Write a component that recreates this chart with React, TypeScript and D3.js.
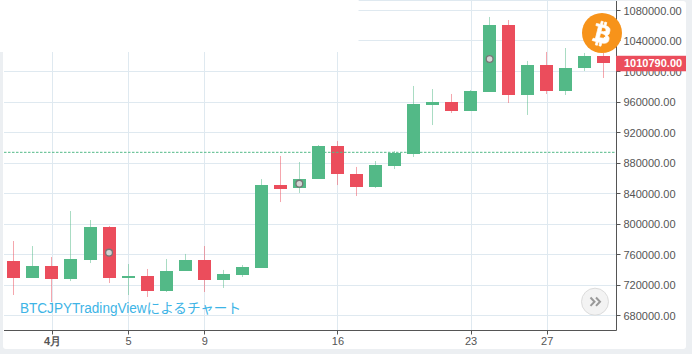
import React from "react";
import * as d3 from "d3";

const opens = [751500,729200,744900,727900,752800,796100,729200,731800,712100,738400,752800,726600,733100,742300,851100,847200,859000,902300,865600,848500,876100,891800,956100,960000,948200,973100,1061000,969200,1008500,974400,1004600,1020300];
const closes = [729200,744900,727900,754100,796100,729200,731800,712100,738400,752800,726600,734400,743600,851100,845900,859000,902300,865600,848500,877400,893100,957400,960000,948200,974400,1061000,969200,1008500,974400,1004600,1020300,1010800];
const highs = [777700,771100,756700,817000,805200,797400,747500,741000,754100,760700,771100,739700,746200,858900,889200,881300,903600,908800,874800,882600,895700,981000,977000,970500,975700,1071500,1067500,1013800,1025600,1030800,1024300,1024300];
const lows = [706900,729200,697700,725200,748800,722600,706900,704300,710800,738400,710800,716100,730500,837700,828800,840700,859000,851100,836700,847200,872100,887900,929800,945600,948200,973100,958700,943000,970500,969200,1000700,991500];
const tickValues = [1080000,1040000,1000000,960000,920000,880000,840000,800000,760000,720000,680000];
const dayLabels = ["4月","5","9","16","23","27"];
const dayIndex = [2,6,10,17,24,28];
const markerIndex = [5,15,25];
const markerPrice = [762400,852900,1016400];
const lastPrice = 1010790;
const refPrice = 894000;

const UP = "#53b987";
const DOWN = "#eb4d5c";
const GRID = "#dfe9f0";
const AXIS = "#555555";
const TEXT = "#555555";
const FONT = "'Liberation Sans', Arial, sans-serif";
const BTC = "M46.1 27.4c.6-4.3-2.6-6.6-7.1-8.2l1.5-5.8-3.5-.9-1.4 5.7c-.9-.2-1.9-.4-2.8-.7l1.4-5.7-3.5-.9-1.5 5.8c-.8-.2-1.5-.3-2.2-.5l-4.9-1.2-.9 3.8s2.6.6 2.6.6c1.4.4 1.7 1.3 1.6 2.1l-1.6 6.5-3.3 13.1c-.2.4-.6 1-1.6.8 0 0-2.6-.6-2.6-.6l-1.7 4 4.6 1.2c.9.2 1.7.4 2.5.6l-1.5 5.9 3.5.9 1.5-5.8c1 .3 1.9.5 2.8.7l-1.4 5.7 3.5.9 1.5-5.8c6 1.1 10.5.7 12.4-4.7 1.5-4.4-.1-6.9-3.2-8.5 2.3-.5 4-2 4.5-5.1zm-8 11.2c-1.1 4.3-8.3 2-10.7 1.4l1.9-7.7c2.4.6 9.9 1.8 8.8 6.3zm1.1-11.3c-1 3.9-7 1.9-9 1.4l1.7-7c2 .5 8.3 1.4 7.3 5.6z";

const x = d3.scaleLinear().domain([0, 31]).range([13.4, 603.3]);
const y = d3.scaleLinear().domain([680000, 1080000]).range([315.5, 10.5]);
const px = (v: number) => Math.round(v - 0.5) + 0.5;
const LEFT = 4, RIGHT = 616.5, BOTTOM = 330.5;

export default function App() {
  return (
    <svg width={692} height={354} style={{ position: "fixed", left: 0, top: 0, display: "block", background: "#eceff2" }}>
      <rect x={3} y={1} width={683} height={348} rx={3} fill="#ffffff" />
      {tickValues.map((t) => (
        <line key={t} x1={LEFT} x2={RIGHT} y1={px(y(t))} y2={px(y(t))} stroke={GRID} />
      ))}
      {dayIndex.map((d) => (
        <line key={d} x1={px(x(d) + 1)} x2={px(x(d) + 1)} y1={1} y2={BOTTOM} stroke={GRID} />
      ))}
      <line x1={359} x2={RIGHT} y1={0.5} y2={0.5} stroke={GRID} />
      <rect x={0} y={0} width={358.5} height={52} fill="#ffffff" />

      {opens.map((o, i) => {
        const c = closes[i];
        const col = c >= o ? UP : DOWN;
        const cx = Math.round(x(i)) + 0.5;
        const top = Math.round(y(Math.max(o, c)));
        const bot = Math.round(y(Math.min(o, c)));
        return (
          <g key={i}>
            <line x1={cx} x2={cx} y1={y(highs[i])} y2={y(lows[i])} stroke={col} strokeOpacity={0.5} />
            <rect x={cx - 6.5} y={top} width={13} height={Math.max(bot - top, 2)} fill={col} />
          </g>
        );
      })}

      <line x1={LEFT} x2={RIGHT} y1={y(refPrice)} y2={y(refPrice)} stroke={UP} strokeDasharray="2.5 1.5" />

      {markerIndex.map((m, i) => (
        <circle key={m} cx={x(m) + 0.5} cy={y(markerPrice[i])} r={3.4} fill="#d4d4d4" stroke="#777777" strokeWidth={1.3} />
      ))}

      <line x1={LEFT} x2={RIGHT} y1={BOTTOM} y2={BOTTOM} stroke={AXIS} />
      <line x1={RIGHT} x2={RIGHT} y1={1} y2={BOTTOM} stroke={AXIS} />
      {tickValues.map((t) => (
        <g key={t}>
          <line x1={RIGHT} x2={RIGHT + 4} y1={px(y(t))} y2={px(y(t))} stroke={AXIS} />
          <text x={623.5} y={y(t) + 0.5} dy="0.35em" fontFamily={FONT} fontSize={11} fill={TEXT}>{t.toFixed(2)}</text>
        </g>
      ))}
      {dayIndex.map((d, i) => (
        <g key={d}>
          <line x1={px(x(d) + 1)} x2={px(x(d) + 1)} y1={BOTTOM} y2={BOTTOM + 4} stroke={AXIS} />
          <text x={x(d) + 1} y={341} dy="0.35em" textAnchor="middle" fontFamily={FONT} fontSize={11}
            fontWeight={i === 0 ? 700 : 400} fill={TEXT}>{dayLabels[i]}</text>
        </g>
      ))}

      <rect x={616} y={y(lastPrice) - 7.5} width={70} height={15.5} fill={DOWN} />
      <text x={624} y={y(lastPrice)} dy="0.35em" fontFamily={FONT} fontSize={11} fontWeight={700} fill="#ffffff">{lastPrice.toFixed(2)}</text>

      <text x={20} y={308} dy="0.35em" fontFamily="'Liberation Sans', 'Noto Sans CJK JP', sans-serif" fontSize={14} fill="#3db4e6" textLength={221} lengthAdjust="spacingAndGlyphs">BTCJPYTradingViewによるチャート</text>

      <circle cx={595} cy={301.7} r={13.5} fill="#f3f3f3" stroke="#dcdcdc" />
      <path d="M590.5 297.5l4 4.2-4 4.2M596 297.5l4 4.2-4 4.2" fill="none" stroke="#999999" strokeWidth={2} />

      <circle cx={602} cy={33} r={20} fill="#f7931a" />
      <g transform="translate(584 15) scale(0.5625)">
        <path d={BTC} fill="#ffffff" stroke="#ffffff" strokeWidth={1.4} />
      </g>
    </svg>
  );
}
